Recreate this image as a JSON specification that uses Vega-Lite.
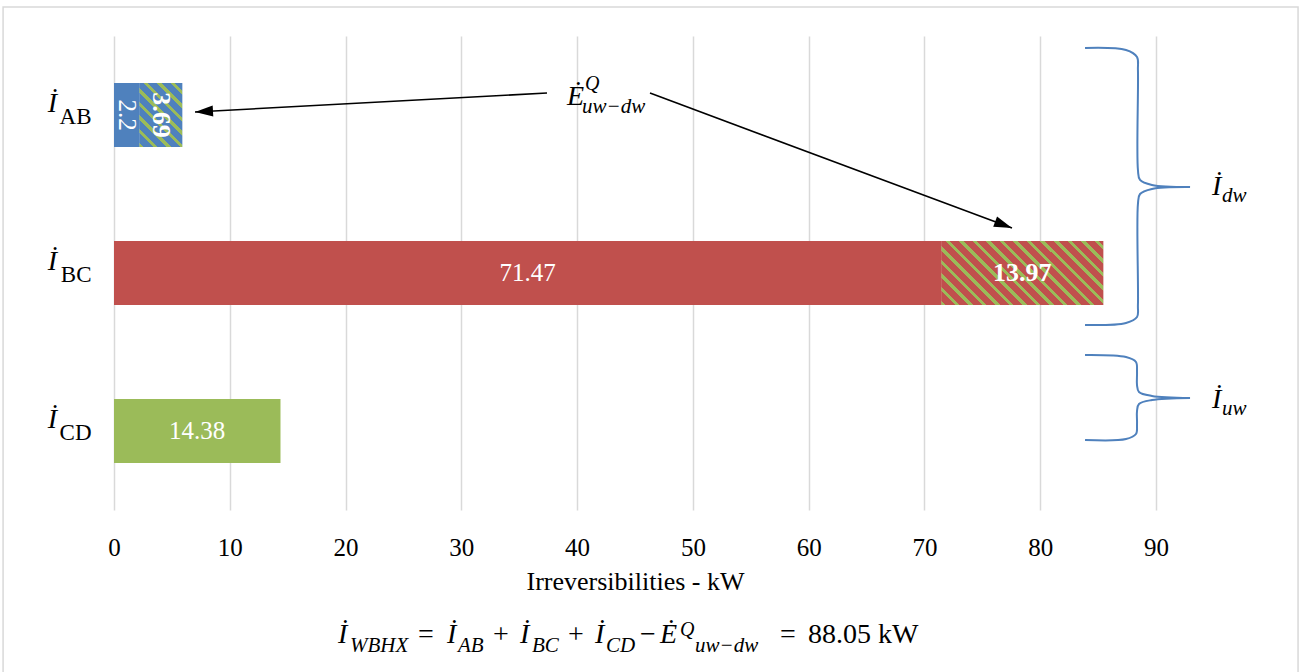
{
  "$schema": "https://vega.github.io/schema/vega-lite/v6.json",
  "width": 1042,
  "height": 474,
  "autosize": {"type": "none"},
  "padding": {"left": 114, "top": 36, "right": 146, "bottom": 162},
  "background": "#ffffff",
  "config": {
    "view": {"stroke": null},
    "font": "Liberation Serif",
    "text": {"font": "Liberation Serif"}
  },
  "datasets": {
    "bars": [
      {"cat": "AB", "seq": 1, "part": "base", "value": 2.2},
      {"cat": "AB", "seq": 2, "part": "exergy", "value": 3.69},
      {"cat": "BC", "seq": 1, "part": "base", "value": 71.47},
      {"cat": "BC", "seq": 2, "part": "exergy", "value": 13.97},
      {"cat": "CD", "seq": 1, "part": "base", "value": 14.38}
    ],
    "arrows": [
      {"id": "toAB", "x": 37.40, "y": 0.3608, "x2": 6.996, "y2": 0.4810},
      {"id": "toBC", "x": 46.295, "y": 0.3608, "x2": 77.561, "y2": 1.2152}
    ],
    "braces": [
      {"half": "dw-top", "seq": 1, "x": 83.87, "y": 0.076},
      {"half": "dw-top", "seq": 2, "x": 87.41, "y": 0.089},
      {"half": "dw-top", "seq": 3, "x": 88.36, "y": 0.133},
      {"half": "dw-top", "seq": 4, "x": 88.44, "y": 0.215},
      {"half": "dw-top", "seq": 5, "x": 88.44, "y": 0.848},
      {"half": "dw-top", "seq": 6, "x": 88.62, "y": 0.911},
      {"half": "dw-top", "seq": 7, "x": 89.65, "y": 0.943},
      {"half": "dw-top", "seq": 8, "x": 92.94, "y": 0.956},
      {"half": "dw-bot", "seq": 1, "x": 92.94, "y": 0.956},
      {"half": "dw-bot", "seq": 2, "x": 89.65, "y": 0.968},
      {"half": "dw-bot", "seq": 3, "x": 88.62, "y": 1.000},
      {"half": "dw-bot", "seq": 4, "x": 88.44, "y": 1.063},
      {"half": "dw-bot", "seq": 5, "x": 88.44, "y": 1.703},
      {"half": "dw-bot", "seq": 6, "x": 88.36, "y": 1.778},
      {"half": "dw-bot", "seq": 7, "x": 87.41, "y": 1.816},
      {"half": "dw-bot", "seq": 8, "x": 83.87, "y": 1.829},
      {"half": "uw-top", "seq": 1, "x": 83.87, "y": 2.019},
      {"half": "uw-top", "seq": 2, "x": 87.41, "y": 2.032},
      {"half": "uw-top", "seq": 3, "x": 88.27, "y": 2.063},
      {"half": "uw-top", "seq": 4, "x": 88.36, "y": 2.127},
      {"half": "uw-top", "seq": 5, "x": 88.36, "y": 2.209},
      {"half": "uw-top", "seq": 6, "x": 88.53, "y": 2.253},
      {"half": "uw-top", "seq": 7, "x": 89.65, "y": 2.278},
      {"half": "uw-top", "seq": 8, "x": 92.94, "y": 2.291},
      {"half": "uw-bot", "seq": 1, "x": 92.94, "y": 2.291},
      {"half": "uw-bot", "seq": 2, "x": 89.65, "y": 2.304},
      {"half": "uw-bot", "seq": 3, "x": 88.53, "y": 2.329},
      {"half": "uw-bot", "seq": 4, "x": 88.36, "y": 2.373},
      {"half": "uw-bot", "seq": 5, "x": 88.36, "y": 2.456},
      {"half": "uw-bot", "seq": 6, "x": 88.27, "y": 2.519},
      {"half": "uw-bot", "seq": 7, "x": 87.41, "y": 2.551},
      {"half": "uw-bot", "seq": 8, "x": 83.87, "y": 2.557}
    ],
    "notes": [
      {"txt": "Ė", "x": 39.13, "y": 0.4367, "role": "big"},
      {"txt": "Q", "x": 40.68, "y": 0.3418, "role": "sup"},
      {"txt": "uw−dw", "x": 40.42, "y": 0.4873, "role": "sub"},
      {"txt": "İ", "x": 94.836, "y": 1.0063, "role": "big"},
      {"txt": "dw", "x": 95.70, "y": 1.0506, "role": "sub"},
      {"txt": "İ", "x": 94.836, "y": 2.3544, "role": "big"},
      {"txt": "uw", "x": 95.70, "y": 2.3987, "role": "sub"},
      {"txt": "İ", "x": 19.347, "y": 3.8418, "role": "big"},
      {"txt": "WBHX", "x": 20.384, "y": 3.8987, "role": "sub"},
      {"txt": "=", "x": 26.257, "y": 3.8418, "role": "op"},
      {"txt": "İ", "x": 28.762, "y": 3.8418, "role": "big"},
      {"txt": "AB", "x": 29.712, "y": 3.8987, "role": "sub"},
      {"txt": "+", "x": 32.735, "y": 3.8418, "role": "op"},
      {"txt": "İ", "x": 35.067, "y": 3.8418, "role": "big"},
      {"txt": "BC", "x": 36.103, "y": 3.8987, "role": "sub"},
      {"txt": "+", "x": 39.213, "y": 3.8418, "role": "op"},
      {"txt": "İ", "x": 41.545, "y": 3.8418, "role": "big"},
      {"txt": "CD", "x": 42.49, "y": 3.8987, "role": "sub"},
      {"txt": "−", "x": 45.43, "y": 3.8418, "role": "op"},
      {"txt": "Ė", "x": 47.159, "y": 3.8418, "role": "big"},
      {"txt": "Q", "x": 48.886, "y": 3.7975, "role": "sup"},
      {"txt": "uw−dw", "x": 50.182, "y": 3.8987, "role": "sub"},
      {"txt": "=", "x": 57.523, "y": 3.8418, "role": "op"},
      {"txt": "88.05 kW", "x": 59.942, "y": 3.8418, "role": "op"}
    ]
  },
  "resolve": {"scale": {"y": "independent"}},
  "layer": [
    {
      "data": {"name": "bars"},
      "transform": [
        {"stack": "value", "groupby": ["cat"], "sort": [{"field": "seq"}], "as": ["x0", "x1"]}
      ],
      "mark": {"type": "bar"},
      "encoding": {
        "y": {
          "field": "cat", "type": "nominal",
          "scale": {"domain": ["AB", "BC", "CD"], "paddingInner": 0.595, "paddingOuter": 0.2975},
          "axis": {
            "title": null, "domain": false, "ticks": false,
            "labelFont": "Liberation Serif", "labelFontSize": 23, "labelColor": "#000000",
            "labelPadding": 23, "labelBaseline": "alphabetic", "labelOffset": 8.5
          }
        },
        "x": {
          "field": "x0", "type": "quantitative",
          "scale": {"domain": [0, 90], "nice": false},
          "axis": {
            "title": "Irreversibilities - kW",
            "values": [0, 10, 20, 30, 40, 50, 60, 70, 80, 90],
            "domain": false, "ticks": false, "grid": true,
            "gridColor": "#D9D9D9", "gridWidth": 1.5,
            "labelFont": "Liberation Serif", "labelFontSize": 25, "labelColor": "#000000",
            "labelPadding": 25, "labelFlush": false,
            "titleFont": "Liberation Serif", "titleFontSize": 26, "titleFontWeight": "normal",
            "titleColor": "#000000", "titlePadding": 8
          }
        },
        "x2": {"field": "x1"},
        "color": {
          "field": "cat", "type": "nominal",
          "scale": {"domain": ["AB", "BC", "CD"], "range": ["#4F81BD", "#C0504D", "#9BBB59"]},
          "legend": null
        }
      }
    },
    {
      "data": {"name": "bars"},
      "transform": [
        {"stack": "value", "groupby": ["cat"], "sort": [{"field": "seq"}], "as": ["x0", "x1"]},
        {"filter": "datum.cat === 'AB' && datum.part === 'exergy'"}
      ],
      "mark": {
        "type": "bar",
        "color": {
          "gradient": "linear", "x1": 0, "y1": 1, "x2": 0.770, "y2": -0.1535,
          "stops": [
            {"offset": 0, "color": "#9BBB59"}, {"offset": 0.042, "color": "#9BBB59"}, {"offset": 0.042, "color": "#4F81BD"}, {"offset": 0.127, "color": "#4F81BD"},
            {"offset": 0.127, "color": "#9BBB59"}, {"offset": 0.169, "color": "#9BBB59"}, {"offset": 0.169, "color": "#4F81BD"}, {"offset": 0.254, "color": "#4F81BD"},
            {"offset": 0.254, "color": "#9BBB59"}, {"offset": 0.296, "color": "#9BBB59"}, {"offset": 0.296, "color": "#4F81BD"}, {"offset": 0.381, "color": "#4F81BD"},
            {"offset": 0.381, "color": "#9BBB59"}, {"offset": 0.423, "color": "#9BBB59"}, {"offset": 0.423, "color": "#4F81BD"}, {"offset": 0.508, "color": "#4F81BD"},
            {"offset": 0.508, "color": "#9BBB59"}, {"offset": 0.550, "color": "#9BBB59"}, {"offset": 0.550, "color": "#4F81BD"}, {"offset": 0.635, "color": "#4F81BD"},
            {"offset": 0.635, "color": "#9BBB59"}, {"offset": 0.677, "color": "#9BBB59"}, {"offset": 0.677, "color": "#4F81BD"}, {"offset": 0.762, "color": "#4F81BD"},
            {"offset": 0.762, "color": "#9BBB59"}, {"offset": 0.804, "color": "#9BBB59"}, {"offset": 0.804, "color": "#4F81BD"}, {"offset": 0.889, "color": "#4F81BD"},
            {"offset": 0.889, "color": "#9BBB59"}, {"offset": 0.931, "color": "#9BBB59"}, {"offset": 0.931, "color": "#4F81BD"}, {"offset": 1, "color": "#4F81BD"}
          ]
        }
      },
      "encoding": {
        "y": {"field": "cat", "type": "nominal", "scale": {"domain": ["AB", "BC", "CD"], "paddingInner": 0.595, "paddingOuter": 0.2975}, "axis": null},
        "x": {"field": "x0", "type": "quantitative", "scale": {"domain": [0, 90], "nice": false}},
        "x2": {"field": "x1"}
      }
    },
    {
      "data": {"name": "bars"},
      "transform": [
        {"stack": "value", "groupby": ["cat"], "sort": [{"field": "seq"}], "as": ["x0", "x1"]},
        {"filter": "datum.cat === 'BC' && datum.part === 'exergy'"}
      ],
      "mark": {
        "type": "bar",
        "color": {
          "gradient": "linear", "x1": 0, "y1": 1, "x2": 1.2068, "y2": 0.5224,
          "stops": [
            {"offset": 0, "color": "#9BBB59"}, {"offset": 0.02, "color": "#9BBB59"}, {"offset": 0.02, "color": "#C0504D"}, {"offset": 0.06, "color": "#C0504D"},
            {"offset": 0.06, "color": "#9BBB59"}, {"offset": 0.08, "color": "#9BBB59"}, {"offset": 0.08, "color": "#C0504D"}, {"offset": 0.12, "color": "#C0504D"},
            {"offset": 0.12, "color": "#9BBB59"}, {"offset": 0.14, "color": "#9BBB59"}, {"offset": 0.14, "color": "#C0504D"}, {"offset": 0.18, "color": "#C0504D"},
            {"offset": 0.18, "color": "#9BBB59"}, {"offset": 0.20, "color": "#9BBB59"}, {"offset": 0.20, "color": "#C0504D"}, {"offset": 0.24, "color": "#C0504D"},
            {"offset": 0.24, "color": "#9BBB59"}, {"offset": 0.26, "color": "#9BBB59"}, {"offset": 0.26, "color": "#C0504D"}, {"offset": 0.30, "color": "#C0504D"},
            {"offset": 0.30, "color": "#9BBB59"}, {"offset": 0.32, "color": "#9BBB59"}, {"offset": 0.32, "color": "#C0504D"}, {"offset": 0.36, "color": "#C0504D"},
            {"offset": 0.36, "color": "#9BBB59"}, {"offset": 0.38, "color": "#9BBB59"}, {"offset": 0.38, "color": "#C0504D"}, {"offset": 0.42, "color": "#C0504D"},
            {"offset": 0.42, "color": "#9BBB59"}, {"offset": 0.44, "color": "#9BBB59"}, {"offset": 0.44, "color": "#C0504D"}, {"offset": 0.48, "color": "#C0504D"},
            {"offset": 0.48, "color": "#9BBB59"}, {"offset": 0.50, "color": "#9BBB59"}, {"offset": 0.50, "color": "#C0504D"}, {"offset": 0.54, "color": "#C0504D"},
            {"offset": 0.54, "color": "#9BBB59"}, {"offset": 0.56, "color": "#9BBB59"}, {"offset": 0.56, "color": "#C0504D"}, {"offset": 0.60, "color": "#C0504D"},
            {"offset": 0.60, "color": "#9BBB59"}, {"offset": 0.62, "color": "#9BBB59"}, {"offset": 0.62, "color": "#C0504D"}, {"offset": 0.66, "color": "#C0504D"},
            {"offset": 0.66, "color": "#9BBB59"}, {"offset": 0.68, "color": "#9BBB59"}, {"offset": 0.68, "color": "#C0504D"}, {"offset": 0.72, "color": "#C0504D"},
            {"offset": 0.72, "color": "#9BBB59"}, {"offset": 0.74, "color": "#9BBB59"}, {"offset": 0.74, "color": "#C0504D"}, {"offset": 0.78, "color": "#C0504D"},
            {"offset": 0.78, "color": "#9BBB59"}, {"offset": 0.80, "color": "#9BBB59"}, {"offset": 0.80, "color": "#C0504D"}, {"offset": 0.84, "color": "#C0504D"},
            {"offset": 0.84, "color": "#9BBB59"}, {"offset": 0.86, "color": "#9BBB59"}, {"offset": 0.86, "color": "#C0504D"}, {"offset": 0.90, "color": "#C0504D"},
            {"offset": 0.90, "color": "#9BBB59"}, {"offset": 0.92, "color": "#9BBB59"}, {"offset": 0.92, "color": "#C0504D"}, {"offset": 0.96, "color": "#C0504D"},
            {"offset": 0.96, "color": "#9BBB59"}, {"offset": 0.98, "color": "#9BBB59"}, {"offset": 0.98, "color": "#C0504D"}, {"offset": 1, "color": "#C0504D"}
          ]
        }
      },
      "encoding": {
        "y": {"field": "cat", "type": "nominal", "scale": {"domain": ["AB", "BC", "CD"], "paddingInner": 0.595, "paddingOuter": 0.2975}, "axis": null},
        "x": {"field": "x0", "type": "quantitative", "scale": {"domain": [0, 90], "nice": false}},
        "x2": {"field": "x1"}
      }
    },
    {
      "data": {"name": "bars"},
      "transform": [
        {"stack": "value", "groupby": ["cat"], "sort": [{"field": "seq"}], "as": ["x0", "x1"]},
        {"filter": "datum.part === 'base'"},
        {"calculate": "(datum.x0 + datum.x1) / 2", "as": "mid"}
      ],
      "mark": {"type": "text", "color": "#FFFFFF", "fontSize": 25, "align": "center", "baseline": "middle", "clip": false},
      "encoding": {
        "y": {"field": "cat", "type": "nominal", "scale": {"domain": ["AB", "BC", "CD"], "paddingInner": 0.595, "paddingOuter": 0.2975}, "axis": null},
        "x": {"field": "mid", "type": "quantitative", "scale": {"domain": [0, 90], "nice": false}},
        "text": {"field": "value", "type": "quantitative", "format": "~g"},
        "angle": {"condition": {"test": "datum.cat === 'AB'", "value": 90}, "value": 0}
      }
    },
    {
      "data": {"name": "bars"},
      "transform": [
        {"stack": "value", "groupby": ["cat"], "sort": [{"field": "seq"}], "as": ["x0", "x1"]},
        {"filter": "datum.part === 'exergy'"},
        {"calculate": "(datum.x0 + datum.x1) / 2", "as": "mid"}
      ],
      "mark": {"type": "text", "color": "#FFFFFF", "fontSize": 26, "fontWeight": "bold", "align": "center", "baseline": "middle", "clip": false},
      "encoding": {
        "y": {"field": "cat", "type": "nominal", "scale": {"domain": ["AB", "BC", "CD"], "paddingInner": 0.595, "paddingOuter": 0.2975}, "axis": null},
        "x": {"field": "mid", "type": "quantitative", "scale": {"domain": [0, 90], "nice": false}},
        "text": {"field": "value", "type": "quantitative", "format": "~g"},
        "angle": {"condition": {"test": "datum.cat === 'AB'", "value": 90}, "value": 0}
      }
    },
    {
      "data": {"name": "bars"},
      "transform": [{"filter": "datum.seq === 1"}],
      "mark": {"type": "text", "text": "İ", "fontSize": 28, "fontStyle": "italic", "color": "#000000", "align": "center", "baseline": "alphabetic", "dx": -61.5, "dy": -3, "clip": false},
      "encoding": {
        "y": {"field": "cat", "type": "nominal", "scale": {"domain": ["AB", "BC", "CD"], "paddingInner": 0.595, "paddingOuter": 0.2975}, "axis": null},
        "x": {"datum": 0, "type": "quantitative", "scale": {"domain": [0, 90], "nice": false}}
      }
    },
    {
      "data": {"name": "braces"},
      "mark": {"type": "line", "interpolate": "catmull-rom", "stroke": "#4F81BD", "strokeWidth": 2, "clip": false},
      "encoding": {
        "x": {"field": "x", "type": "quantitative", "scale": {"domain": [0, 90], "nice": false}},
        "y": {"field": "y", "type": "quantitative", "scale": {"domain": [0, 3], "reverse": true, "nice": false, "zero": false}, "axis": null},
        "detail": {"field": "half", "type": "nominal"},
        "order": {"field": "seq", "type": "quantitative"}
      }
    },
    {
      "data": {"name": "arrows"},
      "mark": {"type": "rule", "color": "#000000", "strokeWidth": 1.6, "clip": false},
      "encoding": {
        "x": {"field": "x", "type": "quantitative", "scale": {"domain": [0, 90], "nice": false}},
        "y": {"field": "y", "type": "quantitative", "scale": {"domain": [0, 3], "reverse": true, "nice": false, "zero": false}, "axis": null},
        "x2": {"field": "x2"},
        "y2": {"field": "y2"}
      }
    },
    {
      "data": {"name": "arrows"},
      "mark": {"type": "point", "shape": "M0,0L-2,-0.61L-2,0.61Z", "size": 324, "filled": true, "color": "#000000", "opacity": 1, "clip": false},
      "encoding": {
        "x": {"field": "x2", "type": "quantitative", "scale": {"domain": [0, 90], "nice": false}},
        "y": {"field": "y2", "type": "quantitative", "scale": {"domain": [0, 3], "reverse": true, "nice": false, "zero": false}, "axis": null},
        "angle": {"condition": {"test": "datum.id === 'toAB'", "value": 176.9}, "value": 20.45}
      }
    },
    {
      "data": {"name": "notes"},
      "transform": [{"filter": "datum.role === 'big'"}],
      "mark": {"type": "text", "fontSize": 28, "fontStyle": "italic", "color": "#000000", "align": "left", "baseline": "alphabetic", "clip": false},
      "encoding": {
        "x": {"field": "x", "type": "quantitative", "scale": {"domain": [0, 90], "nice": false}},
        "y": {"field": "y", "type": "quantitative", "scale": {"domain": [0, 3], "reverse": true, "nice": false, "zero": false}, "axis": null},
        "text": {"field": "txt"}
      }
    },
    {
      "data": {"name": "notes"},
      "transform": [{"filter": "datum.role === 'sub'"}],
      "mark": {"type": "text", "fontSize": 21, "fontStyle": "italic", "color": "#000000", "align": "left", "baseline": "alphabetic", "clip": false},
      "encoding": {
        "x": {"field": "x", "type": "quantitative", "scale": {"domain": [0, 90], "nice": false}},
        "y": {"field": "y", "type": "quantitative", "scale": {"domain": [0, 3], "reverse": true, "nice": false, "zero": false}, "axis": null},
        "text": {"field": "txt"}
      }
    },
    {
      "data": {"name": "notes"},
      "transform": [{"filter": "datum.role === 'sup'"}],
      "mark": {"type": "text", "fontSize": 20, "fontStyle": "italic", "color": "#000000", "align": "left", "baseline": "alphabetic", "clip": false},
      "encoding": {
        "x": {"field": "x", "type": "quantitative", "scale": {"domain": [0, 90], "nice": false}},
        "y": {"field": "y", "type": "quantitative", "scale": {"domain": [0, 3], "reverse": true, "nice": false, "zero": false}, "axis": null},
        "text": {"field": "txt"}
      }
    },
    {
      "data": {"name": "notes"},
      "transform": [{"filter": "datum.role === 'op'"}],
      "mark": {"type": "text", "fontSize": 28, "color": "#000000", "align": "left", "baseline": "alphabetic", "clip": false},
      "encoding": {
        "x": {"field": "x", "type": "quantitative", "scale": {"domain": [0, 90], "nice": false}},
        "y": {"field": "y", "type": "quantitative", "scale": {"domain": [0, 3], "reverse": true, "nice": false, "zero": false}, "axis": null},
        "text": {"field": "txt"}
      }
    },
    {
      "data": {"values": [{}]},
      "mark": {"type": "rect", "fill": null, "stroke": "#D9D9D9", "strokeWidth": 1.5, "clip": false},
      "encoding": {
        "x": {"datum": -9.58, "type": "quantitative", "scale": {"domain": [0, 90], "nice": false}},
        "x2": {"datum": 102.27},
        "y": {"datum": -0.184, "type": "quantitative", "scale": {"domain": [0, 3], "reverse": true, "nice": false, "zero": false}, "axis": null},
        "y2": {"datum": 4.2}
      }
    }
  ]
}
